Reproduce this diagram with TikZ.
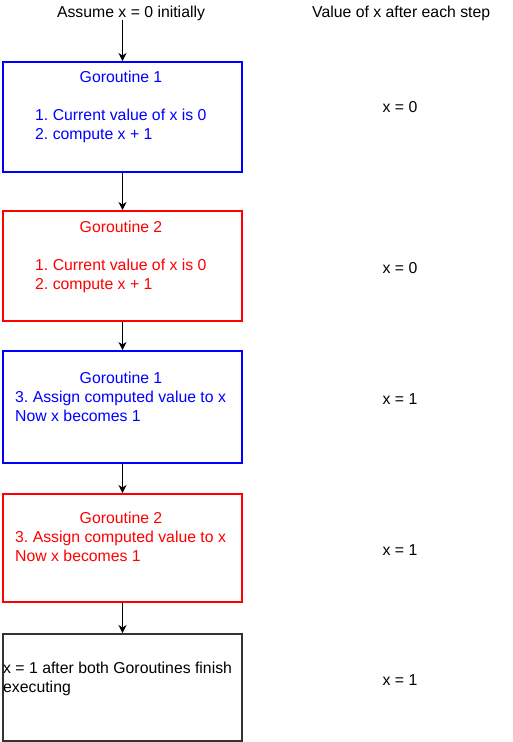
\documentclass[tikz,border=0pt]{standalone}
\usepackage{fontspec}
\setmainfont{Liberation Sans}
\usetikzlibrary{arrows.meta,positioning}
\definecolor{goblue}{HTML}{0000FF}
\definecolor{gored}{HTML}{FF0000}
\definecolor{godark}{HTML}{333333}
\frenchspacing
\tikzset{
  gobox/.style={rectangle,draw,line width=2pt,anchor=north west,inner sep=0pt,
    minimum width=239pt},
  txt/.style={inner sep=0pt,font=\fontsize{15.8}{18}\selectfont},
  arrow/.style={-{Stealth[length=8pt,width=8pt,inset=2.5pt]},line width=1pt,draw=black}
}
\begin{document}
\begin{tikzpicture}[x=1pt,y=-1pt]
\useasboundingbox (0,0) rectangle (512,742);
% headers
\node[txt,anchor=base] (start) at (131,17) {Assume x = 0 initially};
\node[txt,anchor=base west] (head) at (312,17) {Value of x after each step};
% boxes
\node[gobox,draw=goblue,minimum height=110pt] (g1) at (2,61) {};
\node[gobox,draw=gored,minimum height=110pt] (g2) at (2,210) {};
\node[gobox,draw=goblue,minimum height=112pt] (g3) at (2,350) {};
\node[gobox,draw=gored,minimum height=108pt] (g4) at (2,493) {};
\node[gobox,draw=godark,minimum height=107pt] (g5) at (2,633) {};
% text in the boxes
\node[txt,text=goblue,anchor=base] (g1t) at (121,82) {Goroutine 1};
\node[txt,text=goblue,anchor=base west] (g1a) at (35,120) {1. Current value of x is 0};
\node[txt,text=goblue,anchor=base west] (g1b) at (35,139) {2. compute x + 1};
\node[txt,text=gored,anchor=base] (g2t) at (121,232) {Goroutine 2};
\node[txt,text=gored,anchor=base west] (g2a) at (35,270) {1. Current value of x is 0};
\node[txt,text=gored,anchor=base west] (g2b) at (35,289) {2. compute x + 1};
\node[txt,text=goblue,anchor=base] (g3t) at (121,383) {Goroutine 1};
\node[txt,text=goblue,anchor=base west] (g3a) at (15,402) {3. Assign computed value to x};
\node[txt,text=goblue,anchor=base west] (g3b) at (15,421) {Now x becomes 1};
\node[txt,text=gored,anchor=base] (g4t) at (121,523) {Goroutine 2};
\node[txt,text=gored,anchor=base west] (g4a) at (15,542) {3. Assign computed value to x};
\node[txt,text=gored,anchor=base west] (g4b) at (15,561) {Now x becomes 1};
\node[txt,anchor=base west] (g5a) at (3,673) {x = 1 after both Goroutines finish};
\node[txt,anchor=base west] (g5b) at (3,692) {executing};
% value of x
\node[txt,anchor=base] (v1) at (400,112) {x = 0};
\node[txt,anchor=base] (v2) at (400,273) {x = 0};
\node[txt,anchor=base] (v3) at (400,404) {x = 1};
\node[txt,anchor=base] (v4) at (400,555) {x = 1};
\node[txt,anchor=base] (v5) at (400,685) {x = 1};
% arrows
\coordinate (s) at (g1.north |- 0,20);
\draw[arrow] (s) -- (g1.north);
\draw[arrow] (g1) -- (g2); \draw[arrow] (g2) -- (g3);
\draw[arrow] (g3) -- (g4); \draw[arrow] (g4) -- (g5);
\end{tikzpicture}
\end{document}
